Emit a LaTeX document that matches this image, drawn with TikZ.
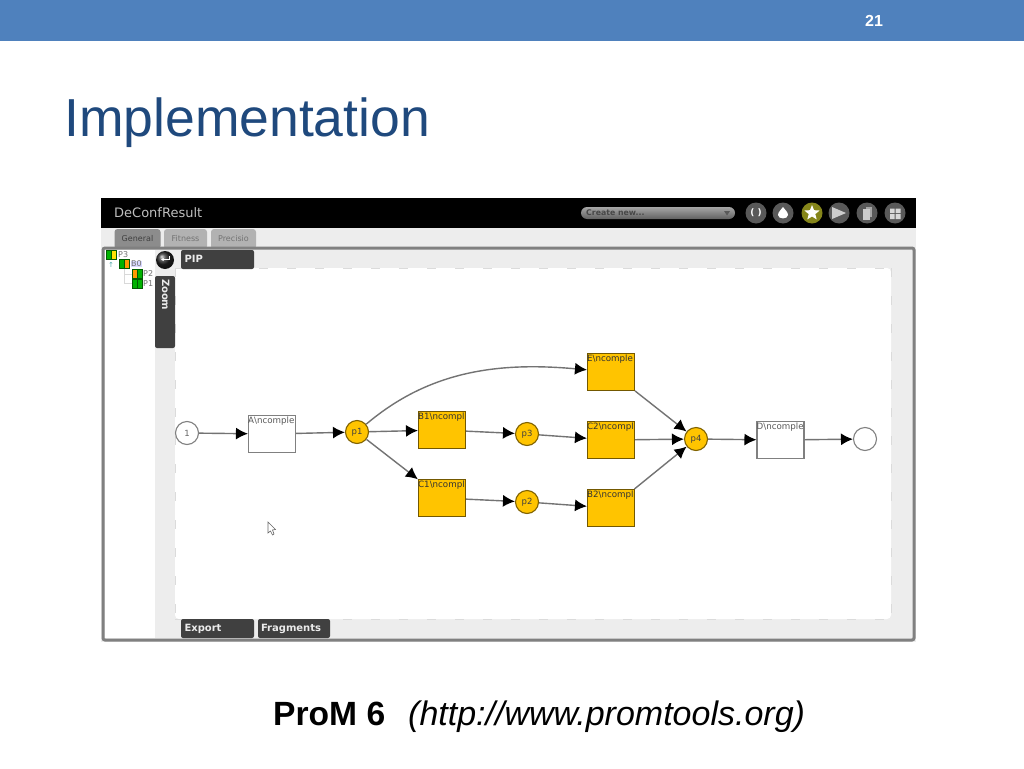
\documentclass[tikz,border=0pt]{standalone}
\usepackage{fontspec}
\setmainfont{Liberation Sans}
\newfontfamily\uifont{DejaVu Sans}
\usetikzlibrary{arrows.meta,shapes.geometric}
\definecolor{bandblue}{HTML}{4F81BD}
\definecolor{titleblue}{HTML}{1F497D}
\definecolor{netorange}{HTML}{FFC400}
\definecolor{tabdark}{HTML}{404040}
\definecolor{staricon}{HTML}{85851A}
\tikzset{
    uitext/.style={font=\uifont\fontsize{#1}{#1}\selectfont},
    place/.style={circle,draw=black!50,line width=1.1pt,fill=white,minimum size=23pt,inner sep=0pt,text=black!60,uitext=8.5},
    donePlace/.style={place,draw=black!50!netorange,fill=netorange,text=black!75},
    task/.style={rectangle,draw=black!50,line width=1.1pt,fill=white,minimum width=47pt,minimum height=37pt,inner sep=0pt},
    doneTask/.style={task,draw=black!55!netorange,fill=netorange},
    tasklabel/.style={anchor=north west,inner sep=0pt,yshift=-2pt,text=black!65,uitext=8.7},
    arc/.style={draw=black!55,line width=1.4pt,-{Latex[black,length=12pt,width=12pt]}},
    darktab/.style={rectangle,rounded corners=2pt,fill=tabdark,text=black!8,inner sep=0pt,text height=7.5pt,text depth=1.5pt,font=\uifont\bfseries\fontsize{10}{10}\selectfont},
    softtab/.style={rectangle,rounded corners=3pt,fill=black!30,inner sep=0pt,text=black!55,uitext=8},
    icon/.style={circle,fill=black!65,minimum size=21pt,inner sep=0pt},
    chip/.style={rectangle,draw=black!40!green!60!black,line width=0.4pt,fill=#1,inner sep=0pt,minimum width=5pt,minimum height=9pt},
    treelabel/.style={inner sep=0pt,anchor=west,text=black!55,uitext=8},
}
\begin{document}
\begin{tikzpicture}[x=1pt,y=-1pt]
    \useasboundingbox (0,0) rectangle (1024,768);
    \fill[white] (0,0) rectangle (1024,768);

    % slide
    \fill[bandblue] (0,0) rectangle (1024,41);
    \node[text=white,font=\bfseries\fontsize{16}{16}\selectfont] (pagenum) at (874,21) {21};
    \node[anchor=base west,inner sep=0pt,text=titleblue,font=\fontsize{53.5}{54}\selectfont] (title) at (64,136) {Implementation};
    \node[anchor=base west,inner sep=0pt,font=\bfseries\fontsize{33.6}{34}\selectfont] (prom) at (273,725) {ProM 6};
    \node[anchor=base west,inner sep=0pt,font=\itshape\fontsize{34}{34}\selectfont] (url) at (408,725) {(http://www.promtools.org)};

    % window
    \fill[black!7] (101,228) rectangle (916,642);
    \fill[black] (101,198) rectangle (916,228);
    \node[anchor=west,inner sep=0pt,text=black!25,uitext=13] (wintitle) at (114,213) {DeConfResult};
    \fill[top color=black!35,bottom color=black!62,rounded corners=6pt] (581,207) rectangle (735,219);
    \node[anchor=west,inner sep=0pt,text=black!72,font=\uifont\bfseries\fontsize{7.8}{8}\selectfont] (createnew) at (586,213) {Create new...};
    \fill[black!65] (724,211) -- (730,211) -- (727,215.5) -- cycle;

    \node[icon] (iconA) at (756,213) {};
    \node[text=white,inner sep=0pt,font=\uifont\bfseries\fontsize{9}{9}\selectfont] (iconAtext) at (iconA) {( )};
    \node[icon] (iconB) at (783,213) {};
    \fill[white] (783,207) .. controls (785,210) and (788,212) .. (788,215) .. controls (788,219.5) and (778,219.5) .. (778,215) .. controls (778,212) and (781,210) .. cycle;
    \node[icon,fill=staricon] (iconC) at (812,213) {};
    \node[star,star points=5,star point ratio=2.3,fill=white,minimum size=16pt,inner sep=0pt] (iconCstar) at (812,213) {};
    \node[icon] (iconD) at (839,213) {};
    \fill[black!20] (832,207) -- (846,213) -- (832,219) -- cycle;
    \node[icon] (iconE) at (867,213) {};
    \fill[black!35] (866,207) rectangle (872,217);
    \fill[black!20] (863,209) rectangle (870,220);
    \node[icon] (iconF) at (895,213) {};
    \fill[black!15] (890,208.5) rectangle (894.5,213) (895.5,208.5) rectangle (900.5,213) (890,214) rectangle (894.5,219) (895.5,214) rectangle (900.5,219);

    % tabs
    \node[softtab,fill=black!45,text=black!75,minimum width=46pt,minimum height=20pt] (general) at (137.5,239) {General};
    \node[softtab,minimum width=43pt,minimum height=20pt] (fitness) at (185.5,239) {Fitness};
    \node[softtab,minimum width=45pt,minimum height=20pt] (precisio) at (233.5,239) {Precisio};

    % panel
    \draw[black!50,line width=3pt,rounded corners=2pt,fill=black!7] (103,248) rectangle (914,640);
    \fill[white] (105,250) rectangle (155,638);
    \fill[white,rounded corners=4pt] (175,268) rectangle (891,619);
    \draw[black!14,line width=1pt,dash pattern=on 9pt off 19pt] (175,268) -- (891,268);
    \draw[black!14,line width=1pt,dash pattern=on 9pt off 19pt] (175,619) -- (891,619);
    \draw[black!14,line width=1pt,dash pattern=on 9pt off 19pt] (891,268) -- (891,619);
    \draw[black!14,line width=1pt,dash pattern=on 9pt off 19pt] (175,268) -- (175,619);

    % tree
    \node[chip=green!70!black] (chipPa) at (108.5,255) {};
    \node[chip=yellow!85!orange] (chipPb) at (113.5,255) {};
    \node[treelabel] (lblP3) at (118,254.5) {P3};
    \node[inner sep=0pt,text=teal!70,uitext=7] (treearrow) at (111,264.5) {↑};
    \node[chip=green!70!black] (chipBa) at (121.5,264) {};
    \node[chip=orange!80!yellow] (chipBb) at (126.5,264) {};
    \node[treelabel,fill=blue!15] (lblB0) at (131,264) {B0};
    \node[chip=orange!80!yellow] (chipCa) at (134.5,274) {};
    \node[chip=green!70!black] (chipCb) at (139.5,274) {};
    \node[treelabel] (lblP2) at (143,274) {P2};
    \node[chip=green!70!black] (chipDa) at (134.5,283.5) {};
    \node[chip=green!70!black] (chipDb) at (139.5,283.5) {};
    \node[treelabel] (lblP1) at (143,283.5) {P1};
    \draw[black!15] (124,269) |- (chipCa.west);
    \draw[black!15] (124,274) |- (chipDa.west);

    % side controls
    \node[darktab,minimum width=73pt,minimum height=19pt,text width=66pt] (pip) at (217.5,259.5) {PIP};
    \node[darktab,minimum width=72pt,minimum height=20pt,rotate=-90,text width=66pt] (zoom) at (165,312) {Zoom};
    \node[darktab,minimum width=73pt,minimum height=19pt,text width=66pt] (export) at (217.5,628.5) {Export};
    \node[darktab,minimum width=72pt,minimum height=19pt,text width=66pt] (fragments) at (294,628.5) {Fragments};
    \shade[ball color=black!85] (165,260) circle (9);
    \draw[white,line width=1pt,-{Latex[length=2.5pt,width=3.5pt]}] (169,256) -- (169,259.5) -- (161,259.5);

    % net
    \node[place] (start) at (187,433) {1};
    \node[task] (A) at (272,434) {};
    \node[donePlace] (p1) at (357,432) {p1};
    \node[doneTask] (B1) at (442,430) {};
    \node[doneTask] (C1) at (442,498) {};
    \node[donePlace] (p3) at (527,434) {p3};
    \node[donePlace] (p2) at (527,502) {p2};
    \node[doneTask] (E) at (611,372) {};
    \node[doneTask] (C2) at (611,440) {};
    \node[doneTask] (B2) at (611,508) {};
    \node[donePlace] (p4) at (696,439) {p4};
    \node[task] (D) at (780.5,440) {};
    \node[place] (end) at (865,439) {};

    \node[tasklabel] (lblA) at (A.north west) {A\textbackslash ncomple};
    \node[tasklabel,text=black!80] (lblB1) at (B1.north west) {B1\textbackslash ncompl};
    \node[tasklabel,text=black!80] (lblC1) at (C1.north west) {C1\textbackslash ncompl};
    \node[tasklabel,text=black!80] (lblE) at (E.north west) {E\textbackslash ncomple};
    \node[tasklabel,text=black!80] (lblC2) at (C2.north west) {C2\textbackslash ncompl};
    \node[tasklabel,text=black!80] (lblB2) at (B2.north west) {B2\textbackslash ncompl};
    \node[tasklabel] (lblD) at (D.north west) {D\textbackslash ncomple};

    \draw[arc] (start) -- (A);
    \draw[arc] (A) -- (p1);
    \draw[arc] (p1) -- (B1);
    \draw[arc] (p1) -- (C1);
    \draw[arc] (p1) .. controls (430,370) and (500,362) .. (E);
    \draw[arc] (B1) -- (p3);
    \draw[arc] (C1) -- (p2);
    \draw[arc] (p3) -- (C2);
    \draw[arc] (p2) -- (B2);
    \draw[arc] (E) -- (p4);
    \draw[arc] (C2) -- (p4);
    \draw[arc] (B2) -- (p4);
    \draw[arc] (p4) -- (D);
    \draw[arc] (D) -- (end);

    % pointer
    \draw[black!60,fill=white,line width=0.6pt] (268,522) -- (268,533) -- (270.5,531) -- (272.5,535) -- (274,534) -- (272.5,530) -- (275.5,529.5) -- cycle;
\end{tikzpicture}
\end{document}
